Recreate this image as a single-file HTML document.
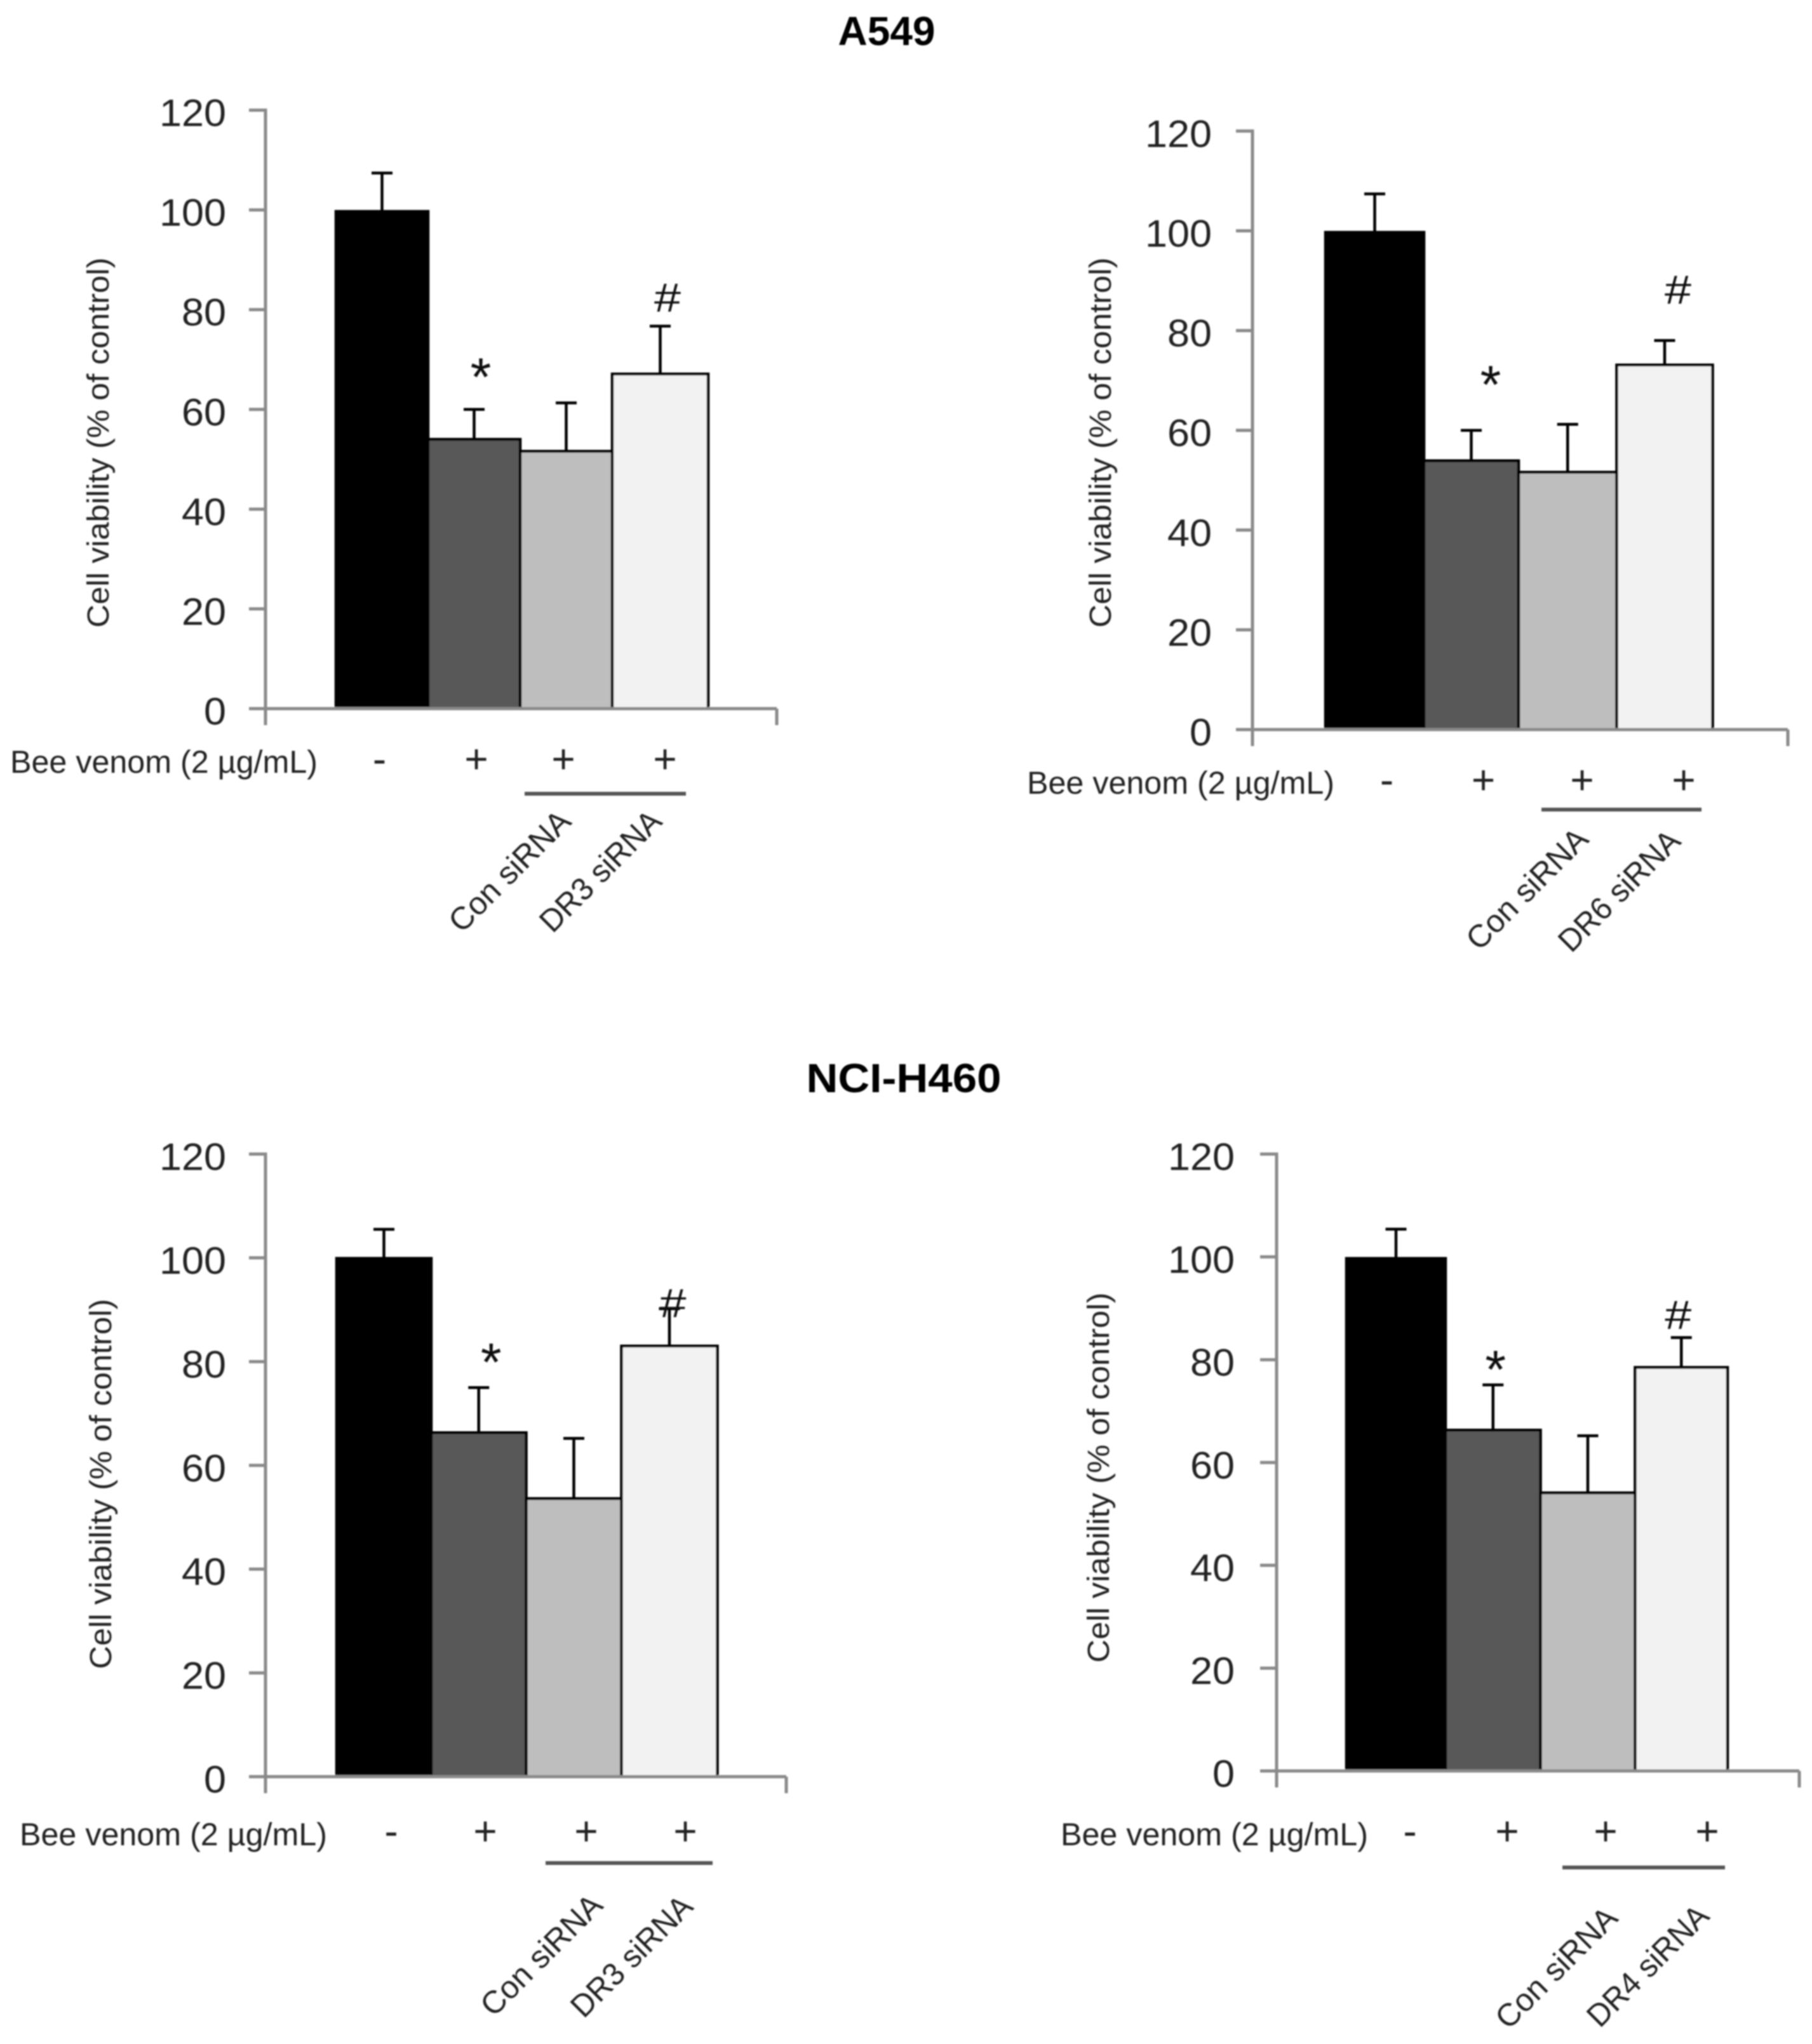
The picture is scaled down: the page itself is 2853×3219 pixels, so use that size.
<!DOCTYPE html>
<html lang="en">
<head>
<meta charset="utf-8">
<title>Cell viability charts</title>
<style>
html,body{margin:0;padding:0;background:#fff;}
svg{display:block;}
text{font-family:"Liberation Sans",sans-serif;fill:#222;}
</style>
</head>
<body>
<svg id="figure" xmlns="http://www.w3.org/2000/svg" width="2853" height="3219" viewBox="0 0 2853 3219">
  <defs><filter id="soft" x="-5%" y="-5%" width="110%" height="110%"><feGaussianBlur stdDeviation="1"/></filter></defs>
  <rect x="0" y="0" width="2853" height="3219" fill="#fff"/>
  <g id="root" filter="url(#soft)">
    <text x="1396" y="71" font-size="64" font-weight="bold" text-anchor="middle" textLength="153" lengthAdjust="spacingAndGlyphs" style="fill:#000">A549</text>
    <text x="1423" y="1720" font-size="64" font-weight="bold" text-anchor="middle" textLength="307" lengthAdjust="spacingAndGlyphs" style="fill:#000">NCI-H460</text>
  </g>
</svg>
<script>
const yTickLabels = [0, 20, 40, 60, 80, 100, 120];
const barColors = ["#000000", "#595959", "#bebebe", "#f2f2f2"];
const treatmentSigns = ["-", "+", "+", "+"];
const sigMarks = ["", "*", "", "#"];
const yTitle = "Cell viability (% of control)";
const beeLabel = "Bee venom (2 \u00b5g/mL)";

const a549Dr3Values = [99.7, 54, 51.6, 67.1];
const a549Dr3Errors = [7.7, 6, 9.7, 9.6];
const a549Dr3Labels = ["Con siRNA", "DR3 siRNA"];

const a549Dr6Values = [99.7, 53.9, 51.6, 73.1];
const a549Dr6Errors = [7.7, 6.1, 9.6, 4.9];
const a549Dr6Labels = ["Con siRNA", "DR6 siRNA"];

const h460Dr3Values = [99.9, 66.3, 53.6, 83];
const h460Dr3Errors = [5.6, 8.7, 11.6, 7.2];
const h460Dr3Labels = ["Con siRNA", "DR3 siRNA"];

const h460Dr4Values = [99.7, 66.3, 54.1, 78.5];
const h460Dr4Errors = [5.7, 8.8, 11.1, 5.8];
const h460Dr4Labels = ["Con siRNA", "DR4 siRNA"];

const NS = "http://www.w3.org/2000/svg";
const root = document.getElementById("root");

function make(tag, parent, attrs, txt) {
  const el = document.createElementNS(NS, tag);
  for (const k in attrs) el.setAttribute(k, attrs[k]);
  if (txt !== undefined) el.textContent = txt;
  parent.appendChild(el);
  return el;
}

function drawPanel(id, values, errors, labels, L) {
  const g = make("g", root, {});
  
  
  const yMax = yTickLabels[yTickLabels.length - 1];
  const yScale = v => L.yBase - v * (L.yBase - L.yTop) / yMax;
  const xBar = i => L.barStart + L.bands.slice(0, i).reduce((a, b) => a + b, 0);
  const xMid = i => xBar(i) + L.bands[i] / 2;
  const axisColor = "#8a8a8a";

  // error bars
  values.forEach((v, i) => {
    const top = yScale(v + errors[i]);
    const stem = make("line", g, {x1: xMid(i), x2: xMid(i), y1: yScale(v), y2: top, stroke: "#000", "stroke-width": 4.5});
    
    
    const cap = make("line", g, {x1: xMid(i) - 16.5, x2: xMid(i) + 16.5, y1: top, y2: top, stroke: "#000", "stroke-width": 4.5});
    
    
  });

  // bars
  values.forEach((v, i) => {
    const bar = make("rect", g, {x: xBar(i), y: yScale(v), width: L.bands[i], height: L.yBase - yScale(v), fill: barColors[i], stroke: "#000", "stroke-width": 4.5});
    
    
  });

  // axes
  const yAxis = make("line", g, {x1: L.x0, x2: L.x0, y1: L.yTop - 2.5, y2: L.yBase + 26, stroke: axisColor, "stroke-width": 5});
  
  
  const xAxis = make("line", g, {x1: L.x0 - 26, x2: L.xEnd, y1: L.yBase, y2: L.yBase, stroke: axisColor, "stroke-width": 5});
  
  
  const endTick = make("line", g, {x1: L.xEnd, x2: L.xEnd, y1: L.yBase, y2: L.yBase + 26, stroke: axisColor, "stroke-width": 5});
  
  

  yTickLabels.forEach(t => {
    const tick = make("line", g, {x1: L.x0 - 26, x2: L.x0, y1: yScale(t), y2: yScale(t), stroke: axisColor, "stroke-width": 5});
    
    
    const s = String(t);
    const lab = make("text", g, {x: L.tickRight, y: yScale(t) + 25, "font-size": 60, "text-anchor": "end", textLength: s.length * 35, lengthAdjust: "spacingAndGlyphs"}, s);
    
    
  });

  // y title
  const yt = make("text", g, {transform: "translate(" + L.titleX + "," + L.titleY + ") rotate(-90)", "font-size": 48, "text-anchor": "middle", textLength: 583, lengthAdjust: "spacingAndGlyphs"}, yTitle);
  
  

  // bee venom row
  const bee = make("text", g, {x: L.beeX, y: L.beeY, "font-size": 50, textLength: 484, lengthAdjust: "spacingAndGlyphs"}, beeLabel);
  
  
  treatmentSigns.forEach((s, i) => {
    const sign = make("text", g, {x: L.signX[i], y: L.signY + 20, "font-size": 64, "text-anchor": "middle"}, s);
    
    
  });

  // bracket line
  const ul = make("line", g, {x1: L.ulX1, x2: L.ulX2, y1: L.ulY, y2: L.ulY, stroke: "#555", "stroke-width": 6});
  
  

  // rotated labels
  labels.forEach((t, i) => {
    const p = L.rot[i];
    const r = make("text", g, {transform: "translate(" + p[0] + "," + p[1] + ") rotate(-45)", "font-size": 50, textLength: 247, lengthAdjust: "spacingAndGlyphs"}, t);
    
    
  });

  // significance marks
  sigMarks.forEach((m, i) => {
    if (!m) return;
    const isStar = m === "*";
    const off = isStar ? L.star : L.hash;
    const size = isStar ? 84 : 64;
    const lift = isStar ? 0.58 : 0.35;
    const attrs = {x: xMid(i) + off[0], y: yScale(values[i] + errors[i]) - off[1] + size * lift, "font-size": size, "text-anchor": "middle", style: "fill:#111"};
    if (!isStar) {
      attrs.textLength = 42;
      attrs.lengthAdjust = "spacingAndGlyphs";
    }
    const mark = make("text", g, attrs, m);
    
    
  });
}

drawPanel("a549-dr3", a549Dr3Values, a549Dr3Errors, a549Dr3Labels, {
  x0: 418, xEnd: 1223, yTop: 173.5, yBase: 1116, barStart: 529, bands: [145, 145, 145, 151], tickRight: 356,
  titleX: 171, titleY: 697, beeX: 16, beeY: 1217, signX: [597.5, 750, 887, 1047], signY: 1197,
  ulX1: 826, ulX2: 1080, ulY: 1250, rot: [[727, 1471], [870, 1471]], star: [10.5, 71], hash: [11.5, 45]
});
drawPanel("a549-dr6", a549Dr6Values, a549Dr6Errors, a549Dr6Labels, {
  x0: 1972, xEnd: 2815, yTop: 206.4, yBase: 1149, barStart: 2087, bands: [155, 149, 154.5, 151], tickRight: 1908,
  titleX: 1749, titleY: 697, beeX: 1617, beeY: 1250, signX: [2183.5, 2335.5, 2491, 2651], signY: 1230,
  ulX1: 2427, ulX2: 2679, ulY: 1275, rot: [[2329, 1499], [2474, 1502]], star: [30.5, 92], hash: [21, 80]
});
drawPanel("h460-dr3", h460Dr3Values, h460Dr3Errors, h460Dr3Labels, {
  x0: 418, xEnd: 1238, yTop: 1817.5, yBase: 2798, barStart: 530, bands: [149, 149.5, 150, 151], tickRight: 356,
  titleX: 175, titleY: 2337, beeX: 31, beeY: 2906, signX: [616, 764, 923, 1079], signY: 2885.6,
  ulX1: 859, ulX2: 1122, ulY: 2934, rot: [[777, 3178], [919, 3180]], star: [19.5, 60], hash: [5.5, 9]
});
drawPanel("h460-dr4", h460Dr4Values, h460Dr4Errors, h460Dr4Labels, {
  x0: 2010, xEnd: 2833, yTop: 1817.5, yBase: 2789, barStart: 2120, bands: [156, 149.5, 149, 145.5], tickRight: 1944,
  titleX: 1746, titleY: 2327, beeX: 1670, beeY: 2906, signX: [2220, 2373, 2528, 2688], signY: 2885.6,
  ulX1: 2460, ulX2: 2716, ulY: 2941, rot: [[2375, 3198], [2519, 3195]], star: [4, 44], hash: [-5, 36]
});
</script>
</body>
</html>
